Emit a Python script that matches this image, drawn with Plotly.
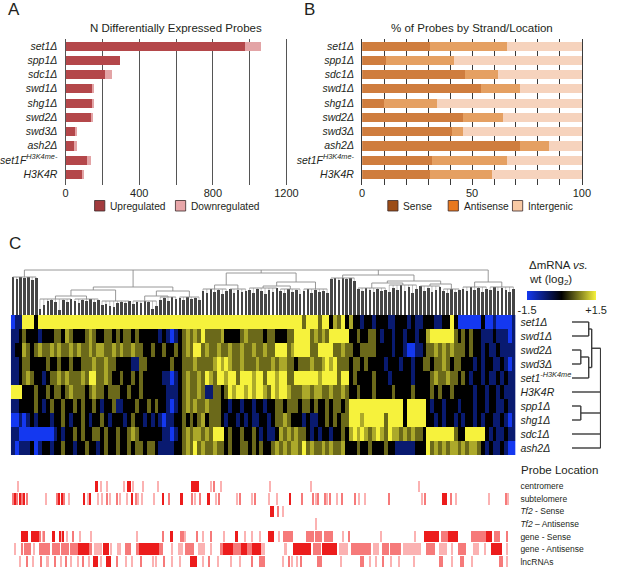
import plotly.graph_objects as go

# figure size in pixels, used to turn pixel layout positions into paper coords
W, H = 617, 568
FONT = "Liberation Sans, Arial, sans-serif"
INK = "#231f20"


def px_x(x):
    return x / W


def px_y(y):
    return 1 - y / H


# ---------------- panel A / B data ----------------
strains_ab = ["set1Δ", "spp1Δ", "sdc1Δ", "swd1Δ", "shg1Δ", "swd2Δ",
              "swd3Δ", "ash2Δ", "set1F<sup>H3K4me-</sup>", "H3K4R"]
n_up = [971, 295, 212, 141, 145, 138, 53, 46, 115, 88]
n_down = [91, 0, 39, 13, 2, 7, 7, 14, 19, 9]

pct_sense = [31, 11, 47, 54, 10, 46, 41, 72, 32, 31]
pct_antisense = [35, 31, 15, 18, 24, 18, 5, 13, 34, 28]
pct_intergenic = [34, 58, 38, 28, 66, 36, 54, 15, 34, 41]

# ---------------- panel C heatmap (one char per column bin of 8 probes) ----------------
strains_c = ["set1Δ", "swd1Δ", "swd2Δ", "swd3Δ", "set1<sup>-H3K4me</sup>",
             "H3K4R", "spp1Δ", "shg1Δ", "sdc1Δ", "ash2Δ"]
level_of = {"B": -1.5, "b": -0.7, "k": 0.0, "o": 0.65, "y": 1.05, "Y": 1.5}
heat_rows = [
    "Bbb" + "YYY" + "k" + "Y" * 66 + "YYoYYYoYYkyoYky" + "kkbkkbkkkbbkkkbkbbkkkbbkk" + "Yk" + "BBBBBB" + "k" + "BBbBBBB" + "b",
    "bbk" + "okkkbk" + "kkookyok" + "kkoyokkook" + "okookokk" + "kkkbkbBbk" + "oyoyoYooo" + "oykkkkoy" + "ooookookkkoo" + "YYYYoy" + "oyo" + "YYYYY" + "kkokk" + "oo" + "kbkkbkkbkkbkk" + "yYYYYYY" + "okok" + "okk" + "bbbkbbbBb",
    "bkk" + "yok" + "oyooyoyooyo" + "yooyoyyooy" + "oyooyook" + "kokkokkok" + "oyoYYoyoo" + "yooyooyo" + "oyooyooYYYoy" + "YYYYoo" + "YYYY" + "ooyook" + "kooook" + "kkkbkk" + "bBBbbk" + "ooyo" + "yoyooo" + "kokk" + "bkbbkbbbb",
    "bbk" + "ookkkk" + "okkokkok" + "koooyooyoo" + "kkkkbboo" + "kkkkkkokk" + "oooyooooy" + "YyYyooyo" + "ooyoooyoyyoo" + "koooyo" + "oyYyYoo" + "okookok" + "kkkbkkkbkkbk" + "kookooyokook" + "kkbkbkkbbkbBb",
    "bbk" + "oyokkb" + "kooyoyoo" + "oyoYYooyok" + "kokkokok" + "kkkkbbBbk" + "oyooyoYyo" + "YYyYYoYY" + "YyYYoYYyYYoo" + "YYYYYYyYYYYoYY" + "kokkkkok" + "kkbkkkkkbkkkk" + "oyooyooko" + "kbkkbkbbkbkbb",
    "YYY" + "kkkokk" + "okookoyo" + "ookoyookoo" + "okkokkok" + "kkkkkbbbk" + "oyooyobbo" + "okoYyYYy" + "YyYYyoYyYYyo" + "ooyyoyyooyooyo" + "kkokkkokkkkokkkkokkkk" + "okokkokkk" + "kkbkkbkkbkbbb",
    "bbk" + "kkkokb" + "kokkokko" + "kokkokbkko" + "bbkkkokk" + "okokkbBbk" + "oyoyooyoo" + "okkbkkbk" + "kbkkbkkookoo" + "okookokkokooko" + "YYYYYYYYYYYYYYkYYYYY" + "kbkkbkkkbkkkbkkbkkbbkbb",
    "BBb" + "Bbkbkk" + "kbkkokbk" + "kokbkkokbk" + "kkbkokkb" + "kbkbBbbkk" + "okokoykoo" + "okbkkbkb" + "kbbkkbkooyok" + "kkbkbbkkokokoo" + "YYYyYYYYYoYYYYkYYYYY" + "kkbkbkkbkbkkbkbkkbbkbBb",
    "bbB" + "BBBBBBBB" + "bkbkko" + "kokkookokk" + "okkoyokk" + "kkkkbbBbk" + "oyoyyoyoY" + "YYkokkok" + "kokbkbbkyoyo" + "yookbkbkkbkkok" + "yYyYyoyYyoYyy" + "oyoyook" + "YYYYYYYo" + "kk" + "YYYYY" + "kbkbbkbb",
    "bBb" + "bbkBbk" + "kbkkokkb" + "kkokkbkokk" + "okkokook" + "ookbbbbkk" + "oyoYoyooy" + "ookokkoo" + "kokokkoyoyoy" + "yoYoyooyoyooyk" + "kkokkokkkokkb" + "bbbbkkk" + "Yoyoyoyyoyoyyok" + "bkbbkbBB",
]
BIN = 8  # probes per heatmap column bin

# column dendrogram: stem height per column bin, then the upper tree
# (leaf groups are (first_bin, last_bin); nodes are [height, children...])
stem_heights = [38, 36, 38, 37, 38, 35, 37,
                6, 10,
                14, 15, 13,
                5,
                15, 13, 16, 14, 12, 15, 14, 16, 13, 15,
                10, 11, 9,
                8, 12,
                13, 12, 14, 11, 13, 12, 14, 13,
                6, 9,
                15, 17, 14, 18, 16, 17, 15, 18, 16, 17, 15,
                24, 22, 26, 23, 25, 21, 24, 26, 22, 25, 23, 24,
                25, 22, 26, 24, 21, 25, 23, 27, 24, 22, 26, 23, 25, 21, 24, 26, 22, 25, 23, 24, 22,
                36, 37, 35, 37, 36, 37, 34,
                26, 24, 27, 25, 23, 26, 24, 25,
                23, 27, 25, 30, 24, 28, 22, 26, 29, 24, 27, 23, 25, 28, 24, 22, 26, 23, 25,
                26, 24, 28, 25, 27, 23, 26, 25, 28, 24, 27, 25, 23, 26]
col_tree = [45,
            (0, 6),
            [28, [25, [19, (7, 15), (16, 22)], (23, 30)],
                 [24, [19, (31, 37), (38, 42)], (43, 48)]],
            [42, [30, (49, 55), (56, 60)], [33, [29, (61, 68), (69, 74)], (75, 81)]],
            [40, (82, 88), [34, [32, (89, 96), (97, 104)], [31, (105, 110), (111, 115)]]],
            [33, (116, 122), (123, 129)]]

# row dendrogram (leaves are heatmap row indices)
row_tree = [29, [20, [17, 0, 1], [17, [9, 2, 3], 4]], 5, [9, 6, 7], 8, 9]

# ---------------- probe location tracks: (first_probe, last_probe, intensity) ----------------
track_names = ["centromere", "subtelomere", "<i>Tf2</i> - Sense", "<i>Tf2</i> – Antisense",
               "gene - Sense", "gene - Antisense", "lncRNAs"]
centromere = [(14, 14, 1), (175, 179, 3), (185, 185, 1), (199, 199, 1), (234, 234, 1), (241, 246, 3),
              (251, 251, 1), (273, 273, 1), (303, 303, 1), (373, 379, 3), (383, 386, 3), (413, 413, 1),
              (419, 419, 2), (434, 434, 1), (535, 535, 1), (618, 618, 1), (841, 841, 1)]
subtelomere = [(5, 5, 2), (8, 8, 3), (13, 13, 2), (18, 18, 3), (23, 23, 2), (27, 27, 3), (33, 33, 2),
               (73, 73, 1), (95, 95, 2), (99, 99, 3), (105, 105, 3), (109, 109, 2), (119, 119, 1),
               (151, 151, 3), (158, 158, 1), (163, 163, 3), (179, 179, 1), (188, 188, 1), (198, 198, 2),
               (205, 205, 1), (218, 218, 2), (225, 225, 1), (239, 239, 1), (249, 249, 3), (258, 258, 2),
               (263, 263, 1), (271, 271, 1), (296, 296, 1), (313, 313, 3), (325, 325, 2), (349, 353, 3),
               (373, 373, 2), (379, 379, 1), (390, 390, 2), (405, 409, 3), (423, 423, 1), (429, 429, 2),
               (466, 466, 1), (473, 473, 2), (496, 496, 1), (503, 503, 2), (533, 533, 1), (549, 549, 1),
               (575, 575, 3), (600, 600, 2), (623, 623, 2), (629, 629, 1), (633, 633, 2), (647, 647, 2),
               (652, 652, 1), (658, 658, 2), (673, 673, 1), (682, 682, 2), (710, 710, 2), (717, 717, 1),
               (729, 729, 1), (780, 780, 2), (847, 847, 1), (853, 853, 2), (890, 897, 3), (907, 907, 2),
               (917, 917, 1), (985, 985, 1), (1020, 1020, 2), (1025, 1025, 1)]
tf2_sense = [(535, 540, 3), (551, 551, 2), (560, 560, 1)]
tf2_antisense = [(629, 629, 1)]
gene_sense = [(21, 33, 3), (43, 56, 3), (61, 61, 2), (66, 66, 1), (69, 69, 2), (86, 89, 3), (101, 101, 3),
              (105, 105, 1), (107, 107, 3), (116, 116, 1), (129, 129, 2), (143, 143, 1), (165, 165, 1),
              (259, 259, 1), (313, 313, 2), (329, 333, 3), (349, 356, 2), (359, 359, 1), (384, 384, 2),
              (396, 396, 1), (413, 413, 2), (439, 439, 1), (463, 466, 3), (483, 483, 1), (496, 496, 1),
              (513, 513, 1), (530, 540, 3), (553, 553, 1), (562, 580, 2), (610, 623, 2), (627, 640, 2),
              (647, 663, 2), (685, 685, 1), (697, 697, 2), (762, 762, 1), (833, 833, 1), (853, 880, 3),
              (887, 900, 2), (903, 920, 3), (950, 977, 2), (980, 990, 3), (997, 1007, 2), (1023, 1023, 2)]
gene_antisense = [(9, 9, 1), (23, 23, 2), (29, 39, 2), (47, 47, 1), (59, 79, 2), (86, 99, 2), (105, 119, 2),
                  (123, 138, 2), (139, 159, 3), (160, 166, 2), (173, 186, 1), (191, 201, 3), (206, 206, 1),
                  (219, 226, 1), (236, 246, 2), (258, 265, 2), (266, 303, 3), (304, 313, 2), (333, 333, 1),
                  (346, 353, 1), (359, 376, 2), (386, 399, 1), (413, 413, 1), (433, 438, 2), (439, 456, 3),
                  (457, 475, 2), (476, 486, 3), (487, 498, 2), (499, 513, 3), (514, 523, 1), (563, 567, 1),
                  (582, 617, 3), (623, 637, 2), (643, 670, 3), (677, 693, 1), (703, 740, 2), (747, 757, 1),
                  (767, 777, 2), (783, 803, 2), (810, 843, 1), (857, 873, 2), (883, 897, 1), (910, 910, 1),
                  (922, 937, 2), (953, 963, 1), (977, 977, 1), (990, 1010, 3), (1023, 1023, 1)]
lncrnas = [(18, 18, 1), (33, 33, 2), (45, 45, 1), (63, 63, 2), (73, 78, 1), (91, 91, 2), (103, 103, 1),
           (113, 113, 2), (123, 123, 1), (139, 139, 1), (149, 149, 2), (161, 161, 1), (171, 179, 3),
           (186, 186, 1), (198, 205, 3), (219, 219, 2), (238, 238, 1), (249, 249, 1), (269, 269, 2),
           (293, 293, 1), (299, 299, 1), (316, 316, 2), (333, 333, 1), (349, 349, 1), (371, 383, 3),
           (396, 396, 1), (409, 409, 2), (426, 426, 1), (453, 453, 1), (473, 473, 1), (496, 496, 2),
           (513, 523, 2), (560, 560, 1), (573, 573, 2), (580, 580, 1), (590, 590, 1), (597, 597, 2),
           (633, 640, 2), (680, 680, 1), (720, 727, 2), (740, 740, 1), (753, 753, 1), (767, 767, 2),
           (783, 783, 1), (800, 800, 1), (830, 830, 1), (883, 889, 2), (910, 910, 1), (927, 933, 2),
           (950, 950, 1), (1007, 1013, 2), (1023, 1023, 1)]
tracks = [centromere, subtelomere, tf2_sense, tf2_antisense, gene_sense, gene_antisense, lncrnas]

# ---------------- styling ----------------
C_UP, C_DOWN = "#b4474a", "#e3a4a6"
C_SENSE, C_ANTI, C_INTER = "#cf7d3e", "#e5a062", "#f6d3bd"
TICK_RED = {1: "#fbb2b2", 2: "#f67a7a", 3: "#ec1c1c"}
TICK_W = 2.6
GRID_A, GRID_B = "#555555", "#3a3a3a"

fig = go.Figure()

ab_pos = list(range(len(strains_ab)))
ab_text = ["<i>%s</i>" % s for s in strains_ab]

# Panel A: stacked up / down counts
fig.add_trace(go.Bar(y=ab_pos, x=n_up, base=[0] * len(n_up), orientation="h", width=0.64,
                     marker=dict(color=C_UP, line_width=0), xaxis="x", yaxis="y", showlegend=False))
fig.add_trace(go.Bar(y=ab_pos, x=n_down, base=n_up, orientation="h", width=0.64,
                     marker=dict(color=C_DOWN, line_width=0), xaxis="x", yaxis="y", showlegend=False))

# Panel B: stacked percentages
anti_base = pct_sense
inter_base = [s + a for s, a in zip(pct_sense, pct_antisense)]
for vals, base, col in [(pct_sense, [0] * 10, C_SENSE), (pct_antisense, anti_base, C_ANTI),
                        (pct_intergenic, inter_base, C_INTER)]:
    fig.add_trace(go.Bar(y=ab_pos, x=vals, base=base, orientation="h", width=0.64,
                         marker=dict(color=col, line_width=0), xaxis="x2", yaxis="y2", showlegend=False))

# Panel C heatmap
z = [[level_of[ch] for ch in row] for row in heat_rows]
n_bins = len(heat_rows[0])
bin_x = [BIN * c + BIN / 2 for c in range(n_bins)]
fig.add_trace(go.Heatmap(
    z=z, x=bin_x, y=list(range(len(strains_c))), xaxis="x4", yaxis="y4",
    zmin=-1.5, zmax=1.5,
    colorscale=[[0, "#1438f0"], [0.5, "#000000"], [1, "#f6f23c"]],
    colorbar=dict(orientation="h", x=px_x(537), xanchor="left", y=px_y(291), yanchor="top",
                  len=69, lenmode="pixels", thickness=9, thicknessmode="pixels",
                  xpad=0, ypad=0, outlinewidth=0, ticks="",
                  tickvals=[-1.5, 1.5], ticktext=["-1.5", "+1.5"],
                  tickfont=dict(family=FONT, size=11, color=INK)),
    hoverinfo="skip"))

# column dendrogram: stems as bars, tree as line segments
fig.add_trace(go.Bar(x=bin_x, y=stem_heights, width=BIN * 0.68, marker=dict(color="#454545", line_width=0),
                     xaxis="x3", yaxis="y3", showlegend=False, hoverinfo="skip"))


def walk(node, segs, comb, leaf):
    if not isinstance(node, list):
        return leaf(node, segs, comb)
    h = node[0]
    kids = [walk(k, segs, comb, leaf) for k in node[1:]]
    ps = [p for p, _ in kids]
    for p, kh in kids:
        segs.append((p, kh, p, h))
    segs.append((min(ps), h, max(ps), h))
    return (min(ps) + max(ps)) / 2, h


def col_leaf(group, segs, comb):
    a, b = group
    top = max(stem_heights[a:b + 1])
    for c in range(a, b + 1):
        comb.append((bin_x[c], stem_heights[c], bin_x[c], top))
    segs.append((bin_x[a], top, bin_x[b], top))
    return (bin_x[a] + bin_x[b]) / 2, top


def row_leaf(r, segs, comb):
    return r, 0


def seg_xy(segs):
    xs, ys = [], []
    for x0, y0, x1, y1 in segs:
        xs += [x0, x1, None]
        ys += [y0, y1, None]
    return xs, ys


csegs, ccomb = [], []
walk(col_tree, csegs, ccomb, col_leaf)
xs, ys = seg_xy(ccomb)
fig.add_trace(go.Scatter(x=xs, y=ys, mode="lines", line=dict(color="#9a9a9a", width=0.6),
                         xaxis="x3", yaxis="y3", showlegend=False, hoverinfo="skip"))
xs, ys = seg_xy(csegs)
fig.add_trace(go.Scatter(x=xs, y=ys, mode="lines", line=dict(color="#8c8c8c", width=0.9),
                         xaxis="x3", yaxis="y3", showlegend=False, hoverinfo="skip"))

# row dendrogram (height on x, row on y)
rsegs = []
walk(row_tree, rsegs, [], row_leaf)
xs, ys = seg_xy(rsegs)
fig.add_trace(go.Scatter(x=ys, y=xs, mode="lines", line=dict(color="#3a3a3a", width=1.4),
                         xaxis="x5", yaxis="y5", showlegend=False, hoverinfo="skip"))

# probe location tracks
for lvl in (1, 2, 3):
    tx, tw, tb = [], [], []
    for row, spans in enumerate(tracks):
        for a, b, k in spans:
            if k == lvl:
                tx.append((a + b) / 2)
                tw.append(b - a + TICK_W)
                tb.append(row - 0.45)
    fig.add_trace(go.Bar(x=tx, y=[0.9] * len(tx), base=tb, width=tw,
                         marker=dict(color=TICK_RED[lvl], line_width=0),
                         xaxis="x6", yaxis="y6", showlegend=False, hoverinfo="skip"))

# ---------------- axes ----------------
ab_ydom = [px_y(185), px_y(38.7)]
cat_axis = dict(domain=ab_ydom, range=[9.76, -0.5], tickvals=ab_pos, ticktext=ab_text, ticks="",
                showgrid=False, zeroline=False, mirror=True, showline=True, ticklabelstandoff=5,
                tickfont=dict(family=FONT, size=10.5, color=INK))
hidden = dict(visible=False, showgrid=False, zeroline=False, fixedrange=True)
c_xdom = [px_x(7), px_x(525)]

fig.update_layout(
    width=W, height=H, autosize=False, margin=dict(l=0, r=0, t=0, b=0),
    paper_bgcolor="white", plot_bgcolor="white", barmode="overlay", bargap=0,
    font=dict(family=FONT, color=INK),
    xaxis=dict(domain=[px_x(63.3), px_x(290)], range=[0, 1200], tickvals=[0, 400, 800, 1200], ticks="",
               showgrid=True, gridcolor=GRID_A, gridwidth=1.4, zeroline=False,
               minor=dict(dtick=200, tick0=0, showgrid=True, gridcolor=GRID_A, gridwidth=1.4),
               tickfont=dict(family=FONT, size=11, color=INK)),
    yaxis=dict(cat_axis, linecolor=GRID_A, linewidth=1.4),
    xaxis2=dict(domain=[px_x(367.7), px_x(593.3)], range=[0, 100], tickvals=[0, 50, 100], ticks="",
                showgrid=True, gridcolor=GRID_B, gridwidth=1.2, zeroline=False,
                minor=dict(dtick=10, tick0=0, showgrid=True, gridcolor=GRID_B, gridwidth=1.2),
                tickfont=dict(family=FONT, size=11, color=INK)),
    yaxis2=dict(cat_axis, anchor="x2", linecolor=GRID_B, linewidth=1.2),
    xaxis3=dict(hidden, domain=c_xdom, range=[0, BIN * n_bins], anchor="y3"),
    yaxis3=dict(hidden, domain=[px_y(315), px_y(268)], range=[0, 47], anchor="x3"),
    xaxis4=dict(hidden, domain=c_xdom, range=[0, BIN * n_bins], anchor="y4"),
    yaxis4=dict(domain=[px_y(455), px_y(315)], range=[9.5, -0.5], anchor="x4", side="right",
                tickvals=list(range(len(strains_c))), ticktext=["<i>%s</i>" % s for s in strains_c],
                ticks="", showgrid=False, zeroline=False, ticklabelstandoff=4, fixedrange=True,
                tickfont=dict(family=FONT, size=10.5, color=INK)),
    xaxis5=dict(hidden, domain=[px_x(583), px_x(613)], range=[0, 29.5], anchor="y5"),
    yaxis5=dict(hidden, domain=[px_y(455), px_y(315)], range=[9.5, -0.5], anchor="x5"),
    xaxis6=dict(hidden, domain=c_xdom, range=[0, BIN * n_bins], anchor="y6"),
    yaxis6=dict(domain=[0, px_y(480)], range=[6.5, -0.5], anchor="x6", side="right",
                tickvals=list(range(len(track_names))), ticktext=track_names, ticks="",
                showgrid=False, zeroline=False, ticklabelstandoff=4, fixedrange=True,
                tickfont=dict(family=FONT, size=8.5, color=INK)),
)

# ---------------- text, legends ----------------
ann = []


def label(text, x, y, size, xanchor="center", yanchor="middle"):
    ann.append(dict(text=text, x=px_x(x), y=px_y(y), xref="paper", yref="paper", showarrow=False,
                    xanchor=xanchor, yanchor=yanchor, font=dict(family=FONT, size=size, color=INK)))


label("A", 2, 9, 17, xanchor="left")
label("B", 306, 9, 17, xanchor="left")
label("C", 3, 243, 17, xanchor="left")
label("N Differentially Expressed Probes", 177, 28, 11.5)
label("% of Probes by Strand/Location", 480, 28, 11.5)
label("ΔmRNA <i>vs.</i>", 537, 265, 11.5, xanchor="left")
label("wt (log<sub>2</sub>)", 537, 280, 11.5, xanchor="left")
label("Probe Location", 529, 470, 11.5, xanchor="left")

shapes = []
legend_items = [("Upregulated", "#a23b3e", 93), ("Downregulated", "#e8a6a9", 176),
                ("Sense", "#9c4c16", 394), ("Antisense", "#e8781e", 456), ("Intergenic", "#f8c9a4", 522)]
for text, col, x0 in legend_items:
    shapes.append(dict(type="rect", xref="paper", yref="paper", x0=px_x(x0), x1=px_x(x0 + 10.5),
                       y0=px_y(211), y1=px_y(200.5), fillcolor=col, line=dict(color="#3a2a2a", width=0.8)))
    label(text, x0 + 14, 206, 10.2, xanchor="left")

fig.update_layout(annotations=ann, shapes=shapes)

# drop the page's default body margin and scrollbars so the figure sits at the window's corner
page_fix = ("document.body.style.margin='0px';"
            "document.body.style.overflow='hidden';"
            "document.documentElement.style.overflow='hidden';")
fig.write_html("out.html", config={"displayModeBar": False, "responsive": False},
               post_script=page_fix)
